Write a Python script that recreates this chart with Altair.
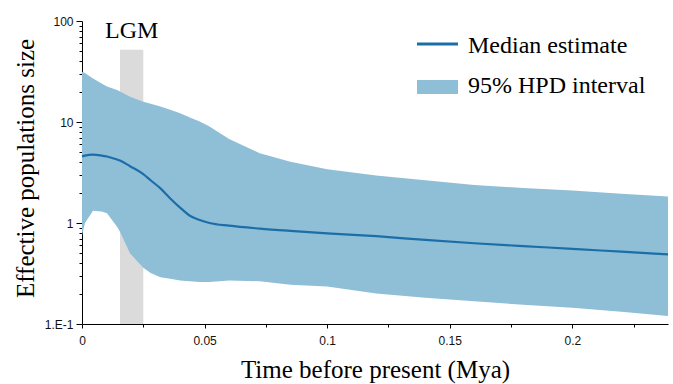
import altair as alt
import pandas as pd

# ---- data ----
time_mya = [0, 0.0012, 0.0045, 0.008, 0.0102, 0.0143, 0.0155, 0.0196, 0.025, 0.028,
            0.032, 0.036, 0.04, 0.044, 0.048, 0.052, 0.06, 0.0725, 0.085, 0.1,
            0.12, 0.14, 0.16, 0.18, 0.2, 0.22, 0.239]
median = [4.55, 4.65, 4.75, 4.65, 4.55, 4.25, 4.15, 3.65, 3.05, 2.65,
          2.2, 1.75, 1.42, 1.18, 1.07, 1.0, 0.94, 0.88, 0.835, 0.79,
          0.74, 0.68, 0.63, 0.59, 0.555, 0.52, 0.49]
hpd_upper = [31.5, 30.5, 27, 24, 22.5, 20.7, 20, 17.8, 15.9, 15.2,
             14.2, 13.2, 12.2, 11.1, 10.1, 9.0, 6.8, 4.9, 4.05, 3.4,
             2.95, 2.65, 2.38, 2.22, 2.1, 1.95, 1.83]
hpd_lower = [0.75, 1.0, 1.32, 1.3, 1.25, 0.92, 0.82, 0.5, 0.36, 0.32,
             0.29, 0.28, 0.27, 0.265, 0.26, 0.26, 0.27, 0.265, 0.245, 0.235,
             0.2, 0.182, 0.168, 0.155, 0.145, 0.132, 0.12]

lgm_start = [0.0155]
lgm_end = [0.025]
lgm_bottom = [0.1]
lgm_top = [52]
lgm_label = ["LGM"]

legend_labels = ["Median estimate", "95% HPD interval"]

x_tick_values = [0, 0.025, 0.05, 0.075, 0.1, 0.125, 0.15, 0.175, 0.2, 0.225]
y_tick_values = [round(d * k, 6) for d in (0.1, 1, 10) for k in range(1, 10)] + [100]

# ---- style ----
BAND = "#8fbed7"
LINE = "#1b6ea8"
SERIF = "Liberation Serif"
SANS = "Liberation Sans"

df = pd.DataFrame({"t": time_mya, "median": median,
                   "lower": hpd_lower, "upper": hpd_upper})
lgm_df = pd.DataFrame({"start": lgm_start, "end": lgm_end,
                       "bottom": lgm_bottom, "top": lgm_top, "label": lgm_label})
lgm_df["mid"] = (lgm_df["start"] + lgm_df["end"]) / 2

x_scale = alt.Scale(domain=[0, 0.239], nice=False, zero=False)
y_scale = alt.Scale(type="log", domain=[0.1, 100], nice=False)

x_axis = alt.Axis(
    values=x_tick_values,
    labelExpr="(datum.value == 0 || datum.value == 0.05 || datum.value == 0.1 || "
              "datum.value == 0.15 || datum.value == 0.2) ? toString(datum.value) : ''",
    tickSize={"condition": {"test": "round(datum.value*40) % 2 == 1", "value": 3}, "value": 4},
    labelFont=SANS, labelFontSize=12, labelColor="#111111", labelPadding=7,
    domainColor="black", tickColor="black", grid=False, labelFlush=False,
    title="Time before present (Mya)", titleFont=SERIF, titleFontSize=25,
    titleFontWeight="normal", titleColor="black", titleBaseline="alphabetic",
    titleY=53,
)

major_test = "abs(log(datum.value)/LN10 - round(log(datum.value)/LN10)) < 0.000001"
y_axis = alt.Axis(
    values=y_tick_values,
    labelExpr="datum.value == 0.1 ? '1.E-1' : (" + major_test + " ? toString(datum.value) : '')",
    tickSize={"condition": {"test": major_test, "value": 6}, "value": 3},
    labelFont=SANS, labelFontSize=12, labelColor="#111111", labelPadding=3,
    domainColor="black", tickColor="black", grid=False, labelOverlap=False,
    title="Effective populations size", titleFont=SERIF, titleFontSize=25,
    titleFontWeight="normal", titleColor="black", titleAngle=270,
    titleBaseline="alphabetic", titleAlign="center", titleX=-49, titleY=147,
)

lgm_bar = alt.Chart(lgm_df).mark_rect(color="#dcdbdc").encode(
    x=alt.X("start:Q", scale=x_scale, axis=x_axis),
    x2="end:Q",
    y=alt.Y("bottom:Q", scale=y_scale, axis=y_axis),
    y2="top:Q",
)

band = alt.Chart(df).mark_area(color=BAND, opacity=1).encode(
    x=alt.X("t:Q", scale=x_scale, axis=x_axis),
    y=alt.Y("lower:Q", scale=y_scale, axis=y_axis),
    y2="upper:Q",
)

line = alt.Chart(df).mark_line(color=LINE, strokeWidth=2.2, interpolate="monotone").encode(
    x=alt.X("t:Q", scale=x_scale, axis=x_axis),
    y=alt.Y("median:Q", scale=y_scale, axis=y_axis),
)

lgm_text = alt.Chart(lgm_df).mark_text(
    font=SERIF, fontSize=24, color="black", align="center", baseline="alphabetic"
).encode(
    x=alt.X("mid:Q", scale=x_scale, axis=x_axis),
    y=alt.value(17),
    text="label:N",
)

leg_df = pd.DataFrame({"label": legend_labels, "row": [0, 1]})

leg_line = alt.Chart(leg_df).transform_filter("datum.row == 0").mark_rule(
    color=LINE, strokeWidth=3
).encode(x=alt.value(335), x2=alt.value(376), y=alt.value(23))

leg_rect = alt.Chart(leg_df).transform_filter("datum.row == 1").mark_rect(
    color=BAND
).encode(x=alt.value(335), x2=alt.value(376), y=alt.value(59), y2=alt.value(73))

leg_text0 = alt.Chart(leg_df).transform_filter("datum.row == 0").mark_text(
    font=SERIF, fontSize=24, color="black", align="left", baseline="alphabetic"
).encode(x=alt.value(386), y=alt.value(32), text="label:N")

leg_text1 = alt.Chart(leg_df).transform_filter("datum.row == 1").mark_text(
    font=SERIF, fontSize=24, color="black", align="left", baseline="alphabetic"
).encode(x=alt.value(386), y=alt.value(72), text="label:N")

chart = alt.layer(
    lgm_bar, band, line, lgm_text, leg_line, leg_rect, leg_text0, leg_text1
).properties(
    width=586, height=303,
    padding={"left": 82, "top": 21, "right": 5, "bottom": 60},
    autosize=alt.AutoSizeParams(type="none"),
    background="white",
).configure_view(stroke=None)

chart.save("out.html", embed_options={"renderer": "svg", "actions": False})
